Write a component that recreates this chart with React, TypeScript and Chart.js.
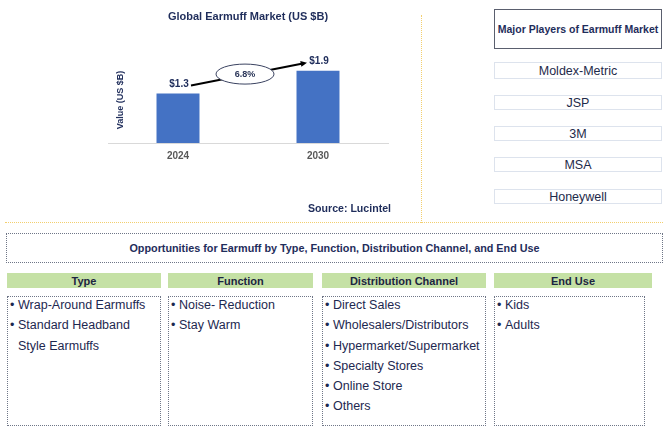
import React, { useEffect, useRef } from "react";
import { Chart, registerables } from "chart.js";

Chart.register(...registerables);

const years = ["2024", "2030"];
const marketValues = [1.3, 1.9];
const valueLabels = ["$1.3", "$1.9"];
const cagrLabel = "6.8%";
const chartTitle = "Global Earmuff Market (US $B)";
const yAxisTitle = "Value (US $B)";
const sourceText = "Source: Lucintel";
const playersTitle = "Major Players of Earmuff Market";
const players = ["Moldex-Metric", "JSP", "3M", "MSA", "Honeywell"];
const opportunitiesTitle =
  "Opportunities for Earmuff by Type, Function, Distribution Channel, and End Use";
const segmentHeaders = ["Type", "Function", "Distribution Channel", "End Use"];
const typeItems = ["Wrap-Around Earmuffs", "Standard Headband Style Earmuffs"];
const functionItems = ["Noise- Reduction", "Stay Warm"];
const channelItems = [
  "Direct Sales",
  "Wholesalers/Distributors",
  "Hypermarket/Supermarket",
  "Specialty Stores",
  "Online Store",
  "Others",
];
const endUseItems = ["Kids", "Adults"];

const FONT = "'Liberation Sans', Arial, Helvetica, sans-serif";
const NAVY = "#1f2d5b";
const TEXT = "#1d2850";
const BAR = "#4472c4";
const YELLOW = "#f3cf6e";

const overlayPlugin = {
  id: "overlay",
  afterDatasetsDraw(chart: any) {
    const ctx = chart.ctx;
    const meta = chart.getDatasetMeta(0);
    const area = chart.chartArea;
    const b0 = meta.data[0];
    const b1 = meta.data[1];
    ctx.save();
    // value labels
    ctx.fillStyle = NAVY;
    ctx.font = `bold 10px ${FONT}`;
    ctx.textAlign = "center";
    ctx.textBaseline = "middle";
    meta.data.forEach((bar: any, i: number) => {
      ctx.fillText(valueLabels[i], bar.x + 1, bar.y - 9);
    });
    // arrow
    const x0 = b0.x + 13;
    const y0 = b0.y - 8;
    const x1 = b1.x - 11;
    const y1 = b1.y - 8;
    const ang = Math.atan2(y1 - y0, x1 - x0);
    const head = 7;
    ctx.strokeStyle = "#000";
    ctx.lineWidth = 2;
    ctx.beginPath();
    ctx.moveTo(x0, y0);
    ctx.lineTo(x1 - head * Math.cos(ang) * 0.8, y1 - head * Math.sin(ang) * 0.8);
    ctx.stroke();
    ctx.fillStyle = "#000";
    ctx.beginPath();
    ctx.moveTo(x1, y1);
    ctx.lineTo(x1 - head * Math.cos(ang - 0.45), y1 - head * Math.sin(ang - 0.45));
    ctx.lineTo(x1 - head * Math.cos(ang + 0.45), y1 - head * Math.sin(ang + 0.45));
    ctx.closePath();
    ctx.fill();
    // ellipse with CAGR
    const cx = (x0 + x1) / 2 - 4;
    const cy = (y0 + y1) / 2;
    ctx.beginPath();
    ctx.ellipse(cx, cy, 29, 10, 0, 0, Math.PI * 2);
    ctx.fillStyle = "#fff";
    ctx.fill();
    ctx.lineWidth = 1;
    ctx.strokeStyle = "#3a4260";
    ctx.stroke();
    ctx.fillStyle = "#2a3558";
    ctx.font = `bold 9px ${FONT}`;
    ctx.fillText(cagrLabel, cx, cy + 0.5);
    // y axis title
    ctx.save();
    ctx.translate(area.left + 13, 100);
    ctx.rotate(-Math.PI / 2);
    ctx.fillStyle = NAVY;
    ctx.font = `bold 9px ${FONT}`;
    ctx.fillText(yAxisTitle, 0, 0);
    ctx.restore();
    // source
    ctx.textAlign = "right";
    ctx.fillStyle = NAVY;
    ctx.font = `bold 10.6px ${FONT}`;
    ctx.fillText(sourceText, area.right + 3, 209);
    ctx.restore();
  },
};

function BarChart() {
  const ref = useRef<HTMLCanvasElement | null>(null);
  useEffect(() => {
    if (!ref.current) return;
    const chart = new Chart(ref.current, {
      type: "bar",
      data: {
        labels: years,
        datasets: [
          {
            data: marketValues,
            backgroundColor: BAR,
            borderWidth: 0,
            categoryPercentage: 1,
            barPercentage: 0.307,
          },
        ],
      },
      options: {
        animation: false,
        responsive: true,
        maintainAspectRatio: false,
        devicePixelRatio: 1,
        layout: { padding: { left: 8, right: 10, top: 0, bottom: 53 } },
        plugins: {
          legend: { display: false },
          tooltip: { enabled: false },
          title: {
            display: true,
            text: chartTitle,
            color: NAVY,
            font: { family: FONT, size: 11, weight: "bold" },
            padding: { top: 10, bottom: 17 },
          },
        },
        scales: {
          x: {
            grid: { display: false, drawTicks: false },
            border: { display: true, color: "#d9d9d9", width: 1 },
            ticks: {
              color: "#595959",
              font: { family: FONT, size: 10, weight: "bold" },
              padding: 7,
            },
          },
          y: { display: false, min: 0, max: 2.7 },
        },
      },
      plugins: [overlayPlugin],
    });
    return () => chart.destroy();
  }, []);
  return (
    <div style={{ position: "absolute", left: 100, top: 0, width: 298, height: 222 }}>
      <canvas ref={ref} />
    </div>
  );
}

function BulletList({ items, left, width }: { items: string[]; left: number; width: number }) {
  return (
    <div
      style={{
        position: "absolute",
        left,
        top: 295,
        width,
        fontSize: 12.5,
        lineHeight: "20.3px",
        color: TEXT,
      }}
    >
      {items.map((t) => (
        <div key={t} style={{ position: "relative", paddingLeft: 8 }}>
          <span style={{ position: "absolute", left: 0, top: 0 }}>•</span>
          {t}
        </div>
      ))}
    </div>
  );
}

export default function App() {
  const cols = [
    { left: 7, right: 161, hright: 161, items: typeItems },
    { left: 168, right: 313, hright: 313, items: functionItems },
    { left: 322, right: 486, hright: 486, items: channelItems },
    { left: 494, right: 645, hright: 652, items: endUseItems },
  ];
  const playerBoxes = [
    { top: 62, bottom: 79 },
    { top: 95, bottom: 110 },
    { top: 126, bottom: 141 },
    { top: 157, bottom: 172 },
    { top: 189, bottom: 204 },
  ];
  return (
    <div
      style={{
        position: "fixed",
        left: 0,
        top: 0,
        width: 670,
        height: 434,
        background: "#fff",
        fontFamily: FONT,
        overflow: "hidden",
      }}
    >
      <BarChart />
      {/* yellow separators */}
      <div
        style={{
          position: "absolute",
          left: 421,
          top: 15,
          height: 208,
          width: 0,
          borderLeft: `1.5px dotted ${YELLOW}`,
        }}
      />
      <div
        style={{
          position: "absolute",
          left: 5,
          top: 222,
          width: 658,
          height: 0,
          borderTop: `1.5px dotted ${YELLOW}`,
        }}
      />
      {/* players */}
      <div
        style={{
          position: "absolute",
          left: 494,
          top: 9,
          width: 168,
          height: 40,
          boxSizing: "border-box",
          border: "1px solid #5a5f6e",
          display: "flex",
          alignItems: "center",
          justifyContent: "center",
          fontSize: 10.5,
          fontWeight: "bold",
          color: NAVY,
          whiteSpace: "nowrap",
        }}
      >
        {playersTitle}
      </div>
      {players.map((p, i) => (
        <div
          key={p}
          style={{
            position: "absolute",
            left: 494,
            top: playerBoxes[i].top,
            width: 168,
            height: playerBoxes[i].bottom - playerBoxes[i].top,
            boxSizing: "border-box",
            border: "1px solid #dde3ed",
            display: "flex",
            alignItems: "center",
            justifyContent: "center",
            fontSize: 12.5,
            color: "#1e2a4a",
          }}
        >
          {p}
        </div>
      ))}
      {/* opportunities */}
      <div
        style={{
          position: "absolute",
          left: 6,
          top: 233,
          width: 657,
          height: 30,
          boxSizing: "border-box",
          border: "1px dotted #6f7687",
          display: "flex",
          alignItems: "center",
          justifyContent: "center",
          fontSize: 10.8,
          fontWeight: "bold",
          color: NAVY,
          whiteSpace: "nowrap",
        }}
      >
        {opportunitiesTitle}
      </div>
      {cols.map((c, i) => (
        <React.Fragment key={segmentHeaders[i]}>
          <div
            style={{
              position: "absolute",
              left: c.left,
              top: 273,
              width: c.hright - c.left,
              height: 15,
              background: "#c5e1a5",
              display: "flex",
              alignItems: "center",
              justifyContent: "center",
              fontSize: 11,
              fontWeight: "bold",
              color: "#1c2541",
              whiteSpace: "nowrap",
            }}
          >
            {segmentHeaders[i]}
          </div>
          <div
            style={{
              position: "absolute",
              left: c.left,
              top: 296,
              width: c.right - c.left,
              height: 130,
              boxSizing: "border-box",
              border: "1px dotted #6f7687",
            }}
          />
          <BulletList items={c.items} left={c.left + 3} width={c.right - c.left - 12} />
        </React.Fragment>
      ))}
    </div>
  );
}
